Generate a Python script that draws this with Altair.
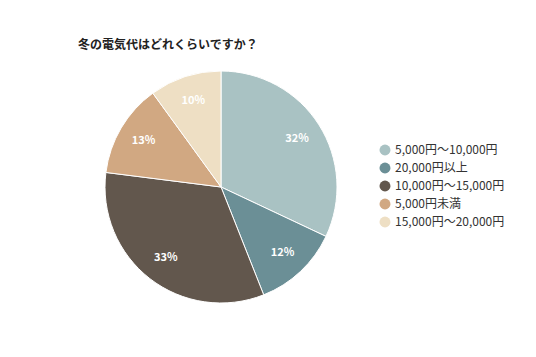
import altair as alt
import pandas as pd

# Pie order (clockwise from 12 o'clock)
categories = ["5,000円～10,000円", "20,000円以上", "10,000円～15,000円", "5,000円未満", "15,000円～20,000円"]
values = [32, 12, 33, 13, 10]
labels = ["32%", "12%", "33%", "13%", "10%"]
legend_order = ["5,000円～10,000円", "20,000円以上", "10,000円～15,000円", "5,000円未満", "15,000円～20,000円"]
colors = ["#a9c2c3", "#6b8f96", "#62574d", "#d1a882", "#eedfc4"]
title_text = "冬の電気代はどれくらいですか？"

df = pd.DataFrame({"category": categories, "value": values, "label": labels,
                   "idx": list(range(len(categories)))})

FONT = "Noto Sans CJK JP"
cx, cy, R = 213, 179, 116

base = alt.Chart(df).encode(
    theta=alt.Theta("value:Q", stack=True),
    order=alt.Order("idx:Q", sort="ascending"),
)

pie = base.mark_arc(outerRadius=R, stroke="white", strokeWidth=1).encode(
    x=alt.value(cx), y=alt.value(cy),
    color=alt.Color("category:N",
                    scale=alt.Scale(domain=legend_order, range=colors),
                    legend=alt.Legend(title=None, orient="none", legendX=371, legendY=136,
                                      symbolType="circle", symbolSize=120, symbolStrokeWidth=0,
                                      labelFont=FONT, labelFontSize=12, labelColor="#333333",
                                      rowPadding=6, padding=0, symbolOffset=0)),
)

text = base.mark_text(radius=90, font=FONT, fontSize=11, fontWeight="bold", color="white").encode(
    x=alt.value(cx), y=alt.value(cy),
    text="label:N",
)

title = alt.Chart(pd.DataFrame({"t": [title_text]})).mark_text(
    align="left", baseline="middle", font=FONT, fontSize=12, fontWeight="bold", color="#222222"
).encode(x=alt.value(70), y=alt.value(37), text="t:N")

chart = alt.layer(pie, text, title).properties(
    width=520, height=340, autosize="none", padding=0
).configure(background="white").configure_view(stroke=None, strokeWidth=0)

chart.save("out.html", embed_options={"renderer": "svg", "actions": False})
